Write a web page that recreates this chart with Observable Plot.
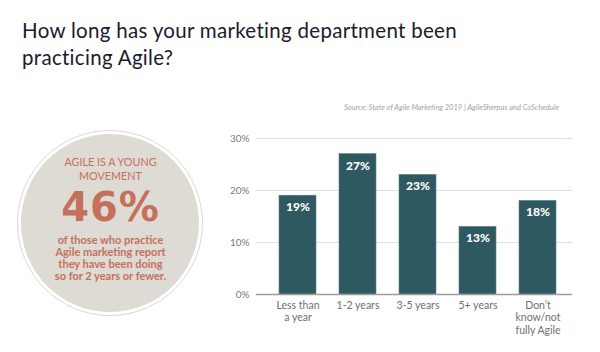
<!DOCTYPE html>
<html><head><meta charset="utf-8">
<script src="https://cdn.jsdelivr.net/npm/d3@7"></script>
<script src="https://cdn.jsdelivr.net/npm/@observablehq/plot@0.6"></script>
<style>
body{margin:0;background:#fff;font-family:Lato,"Open Sans",sans-serif;}
#wrap{position:relative;width:600px;height:352px;overflow:hidden;}
#title{position:absolute;left:22px;top:17px;font-size:20.5px;line-height:26.5px;color:#1b1c2b;font-family:Lato,sans-serif;letter-spacing:0.3px;white-space:nowrap;}
#source{position:absolute;right:41px;top:103px;font-size:7.5px;font-style:italic;color:#a3a3a3;}
#chart{position:absolute;left:0;top:90px;}
#ring{position:absolute;left:17px;top:130px;width:184px;height:184px;border:1.5px solid #dcd8d2;border-radius:50%;background:#fff;}
#disc{position:absolute;left:3px;top:3px;right:3px;bottom:3px;border-radius:50%;background:#dedad4;}
.c{position:absolute;left:17px;width:187px;text-align:center;color:#c4705a;white-space:nowrap;}
#l1{top:155px;font-size:10.8px;line-height:13.5px;}
#big{top:190px;font-size:40px;font-weight:700;line-height:34px;font-family:"DejaVu Sans",sans-serif;letter-spacing:1px;}
#l2{top:234px;font-size:11px;font-weight:700;line-height:12px;}
</style></head>
<body><div id="wrap">
<div id="title">How long has your marketing department been<br>practicing Agile?</div>
<div id="source">Source: State of Agile Marketing 2019 | AgileSherpas and CoSchedule</div>
<div id="ring"><div id="disc"></div></div>
<div class="c" id="l1">AGILE IS A YOUNG<br>MOVEMENT</div>
<div class="c" id="big">46%</div>
<div class="c" id="l2">of those who practice<br>Agile marketing report<br>they have been doing<br>so for 2 years or fewer.</div>
<div id="chart"></div>
</div>
<script>
const categories = ["Less than\na year", "1-2 years", "3-5 years", "5+ years", "Don’t\nknow/not\nfully Agile"];
const values = [19, 27, 23, 13, 18];
const yTicks = [0, 10, 20, 30];
const data = categories.map((c, i) => ({cat: c, v: values[i]}));

const plot = Plot.plot({
  width: 600,
  height: 262,
  marginLeft: 256,
  marginRight: 28,
  marginTop: 48,
  marginBottom: 58,
  style: {fontFamily: "Lato, sans-serif", background: "transparent"},
  x: {domain: categories, range: [265, 570], padding: 0.39, paddingOuter: 0.2, label: null},
  y: {domain: [0, 30], label: null},
  marks: [
    Plot.ruleY(yTicks.filter(d => d > 0), {stroke: "#d5e5e4", strokeWidth: 1}),
    Plot.barY(data, {x: "cat", y: "v", fill: "#2e5961", stroke: "#5f8389", strokeWidth: 0.6}),
    Plot.ruleY([0], {stroke: "#9c9c9c", strokeWidth: 1.5}),
    Plot.text(data, {x: "cat", y: "v", text: d => d.v + "%", fill: "#fff", fontWeight: 900, fontSize: 12, lineAnchor: "top", dy: 7}),
    Plot.axisY({ticks: yTicks, tickFormat: d => d + "%", tickSize: 0, tickPadding: 7, fontSize: 10, color: "#7a7a7a", label: null}),
    Plot.axisX({tickSize: 0, tickPadding: 5, fontSize: 10.5, color: "#6f6f6f", lineHeight: 1.22, label: null})
  ]
});
document.getElementById("chart").appendChild(plot);
</script>
</body></html>
